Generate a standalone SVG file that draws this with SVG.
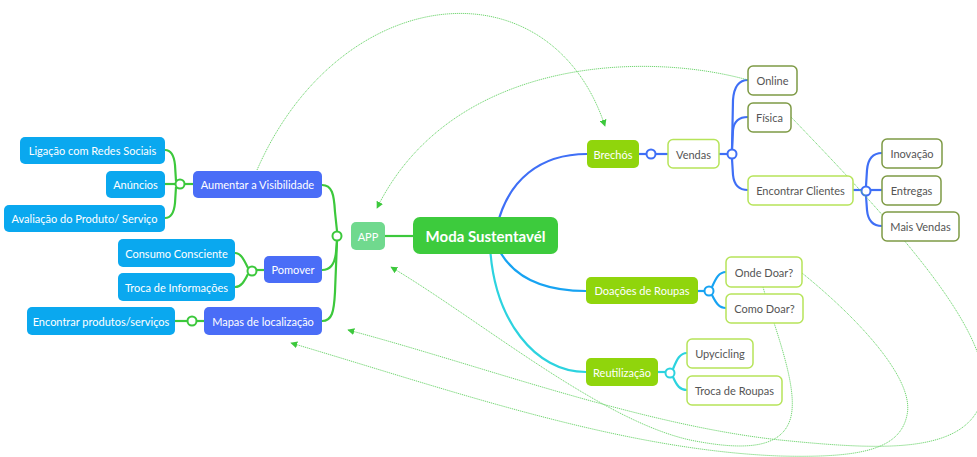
<svg xmlns="http://www.w3.org/2000/svg" width="977" height="457" viewBox="0 0 977 457">
  <defs>
    <marker id="arrow" viewBox="0 0 10 10" refX="9" refY="5" markerWidth="7" markerHeight="7" markerUnits="userSpaceOnUse" orient="auto">
      <path d="M0,0 L10,5 L0,10 z" fill="#3cc83c"/>
    </marker>
    <style>
      text { font-family: Lato, "Noto Sans", "Liberation Sans", sans-serif; font-size: 11px; text-anchor: middle; dominant-baseline: central; }
      .w { fill: #ffffff; }
      .d { fill: #555555; }
      .sky { fill: #0aa8ef; }
      .indigo { fill: #4a6df7; }
      .lime { fill: #90d50c; }
      .app { fill: #70d98e; }
      .root { fill: #3dcb3d; }
      .ol { fill: #ffffff; stroke: #7e9a45; stroke-width: 1.5; }
      .lg { fill: #ffffff; stroke: #b6e45a; stroke-width: 1.5; }
      .g { fill: none; stroke: #3cc83c; stroke-width: 2.2; }
      .b { fill: none; stroke: #3f6ff6; stroke-width: 2.2; }
      .az { fill: none; stroke: #17a3f2; stroke-width: 2.2; }
      .cy { fill: none; stroke: #2cd3df; stroke-width: 2.2; }
      .jg { fill: #ffffff; stroke: #3cc83c; stroke-width: 2; }
      .jb { fill: #ffffff; stroke: #3f6ff6; stroke-width: 2; }
      .jaz { fill: #ffffff; stroke: #17a3f2; stroke-width: 2; }
      .jcy { fill: #ffffff; stroke: #2cd3df; stroke-width: 2; }
      .rel { fill: none; stroke: #62d062; stroke-width: 0.9; stroke-dasharray: 1.2 0.8; marker-end: url(#arrow); }
    </style>
  </defs>

  <!-- branch connectors -->
  <g id="connectors">
    <!-- root to APP and main branches -->
    <path class="g" d="M385,236 L413,236"/>
    <path class="b" d="M497,226 C508,180 540,154 587,154"/>
    <path class="az" d="M497,246 C512,278 545,291 586,291"/>
    <path class="cy" d="M490,246 C494,320 535,372 586,372"/>

    <!-- APP side -->
    <path class="g" d="M337,231 L335,212 C334,194 332,185 322,185"/>
    <path class="g" d="M337,241 L336,252 C335,264 331,270 322,270"/>
    <path class="g" d="M337,241 L335,292 C334,312 332,321 322,321"/>

    <path class="g" d="M193,184 L185,184"/>
    <path class="g" d="M176,181 L175,165 C174,155 171,150 165,150"/>
    <path class="g" d="M175,184 L165,184"/>
    <path class="g" d="M176,187 L175,203 C174,213 171,218 165,218"/>

    <path class="g" d="M264,270 L257,270"/>
    <path class="g" d="M248,268 C244,260 241,253 235,253"/>
    <path class="g" d="M248,274 C244,282 241,287 235,287"/>

    <path class="g" d="M204,321 L197,321"/>
    <path class="g" d="M187,321 L175,321"/>

    <!-- Brechós side -->
    <path class="b" d="M639,154 L646,154"/>
    <path class="b" d="M656,154 L668,154"/>
    <path class="b" d="M719,154 L727,154"/>
    <path class="b" d="M732,149 L733,100 C734,86 739,80 748,80"/>
    <path class="b" d="M732,149 L733,130 C734,121 739,117 748,117"/>
    <path class="b" d="M732,159 L733,175 C734,185 739,190 748,190"/>
    <path class="b" d="M853,190 L861,190"/>
    <path class="b" d="M866,186 L867,170 C868,158 873,153 882,153"/>
    <path class="b" d="M871,190 L882,190"/>
    <path class="b" d="M866,196 L867,210 C868,221 873,226 882,226"/>

    <!-- Doações side -->
    <path class="az" d="M698,291 L704,291"/>
    <path class="az" d="M712,287 C716,278 719,272 726,272"/>
    <path class="az" d="M712,295 C716,303 719,308 726,308"/>

    <!-- Reutilização side -->
    <path class="cy" d="M658,372 L665,372"/>
    <path class="cy" d="M673,369 C677,359 680,353 687,353"/>
    <path class="cy" d="M673,377 C677,386 680,390 687,390"/>

    <!-- joints -->
    <circle class="jg" cx="337" cy="236" r="4.5"/>
    <circle class="jg" cx="180" cy="184" r="4.5"/>
    <circle class="jg" cx="252" cy="271" r="4.5"/>
    <circle class="jg" cx="192" cy="321" r="4.5"/>
    <circle class="jb" cx="651" cy="154" r="4.5"/>
    <circle class="jb" cx="732" cy="154" r="4.5"/>
    <circle class="jb" cx="866" cy="191" r="4.5"/>
    <circle class="jaz" cx="709" cy="291" r="4.5"/>
    <circle class="jcy" cx="670" cy="373" r="4.5"/>

    <!-- relationship lines -->
    <path class="rel" d="M257,170 C340,-20 550,-40 605,126"/>
    <path class="rel" d="M748,80 C640,50 450,60 377,208"/>
    <path class="rel" d="M791,117 C900,230 1000,340 982,400 C965,455 880,450 780,440 C640,425 480,365 348,330"/>
    <path class="rel" d="M802,273 C860,320 915,380 907,415 C900,450 860,458 780,456 C620,450 450,390 291,343"/>
    <path class="rel" d="M763,287 C775,330 800,390 790,420 C780,450 740,450 690,440 C600,420 480,320 391,267"/>
  </g>

  <!-- central topic -->
  <g id="root">
    <rect class="root" x="413" y="217" width="145" height="37" rx="7"/>
    <text class="w" x="485.5" y="236" style="font-size:15px;font-weight:bold">Moda Sustentavél</text>
  </g>

  <g id="app">
    <rect class="app" x="351" y="222" width="34" height="28" rx="5"/>
    <text class="w" x="368" y="236">APP</text>
  </g>

  <!-- APP subtopics -->
  <g id="aumentar">
    <rect class="indigo" x="193" y="171" width="129" height="27" rx="5"/>
    <text class="w" x="257.5" y="184.5">Aumentar a Visibilidade</text>
  </g>
  <g id="ligacao">
    <rect class="sky" x="20" y="137" width="145" height="27" rx="5"/>
    <text class="w" x="92.5" y="150.5">Ligação com Redes Sociais</text>
  </g>
  <g id="anuncios">
    <rect class="sky" x="106" y="171" width="59" height="27" rx="5"/>
    <text class="w" x="135.5" y="184.5">Anúncios</text>
  </g>
  <g id="avaliacao">
    <rect class="sky" x="4" y="205" width="161" height="27" rx="5"/>
    <text class="w" x="84.5" y="218.5">Avaliação do Produto/ Serviço</text>
  </g>

  <g id="pomover">
    <rect class="indigo" x="264" y="256" width="58" height="27" rx="5"/>
    <text class="w" x="293" y="269.5">Pomover</text>
  </g>
  <g id="consumo">
    <rect class="sky" x="118" y="239" width="117" height="28" rx="5"/>
    <text class="w" x="176.5" y="253">Consumo Consciente</text>
  </g>
  <g id="troca-info">
    <rect class="sky" x="118" y="273" width="117" height="28" rx="5"/>
    <text class="w" x="176.5" y="287">Troca de Informações</text>
  </g>

  <g id="mapas">
    <rect class="indigo" x="204" y="307" width="118" height="28" rx="5"/>
    <text class="w" x="263" y="321">Mapas de localização</text>
  </g>
  <g id="encontrar-produtos">
    <rect class="sky" x="27" y="307" width="148" height="28" rx="5"/>
    <text class="w" x="101" y="321">Encontrar produtos/serviços</text>
  </g>

  <!-- Brechós branch -->
  <g id="brechos">
    <rect class="lime" x="587" y="140" width="52" height="28" rx="5"/>
    <text class="w" x="613" y="154">Brechós</text>
  </g>
  <g id="vendas">
    <rect class="lg" x="668" y="139.5" width="51" height="28.5" rx="5"/>
    <text class="d" x="693.5" y="154">Vendas</text>
  </g>
  <g id="online">
    <rect class="ol" x="748" y="66" width="49" height="29" rx="5"/>
    <text class="d" x="772.5" y="80.5">Online</text>
  </g>
  <g id="fisica">
    <rect class="ol" x="748" y="103" width="43" height="29" rx="5"/>
    <text class="d" x="769.5" y="117.5">Física</text>
  </g>
  <g id="encontrar-clientes">
    <rect class="lg" x="748" y="176" width="105" height="29" rx="5"/>
    <text class="d" x="800.5" y="190.5">Encontrar Clientes</text>
  </g>
  <g id="inovacao">
    <rect class="ol" x="882" y="139" width="60" height="29" rx="5"/>
    <text class="d" x="912" y="153.5">Inovação</text>
  </g>
  <g id="entregas">
    <rect class="ol" x="882" y="176" width="59" height="29" rx="5"/>
    <text class="d" x="911.5" y="190.5">Entregas</text>
  </g>
  <g id="mais-vendas">
    <rect class="ol" x="882" y="212" width="77" height="29" rx="5"/>
    <text class="d" x="920.5" y="226.5">Mais Vendas</text>
  </g>

  <!-- Doações branch -->
  <g id="doacoes">
    <rect class="lime" x="586" y="277" width="112" height="27" rx="5"/>
    <text class="w" x="642" y="290.5">Doações de Roupas</text>
  </g>
  <g id="onde-doar">
    <rect class="lg" x="726" y="257" width="76" height="30" rx="5"/>
    <text class="d" x="764" y="272">Onde Doar?</text>
  </g>
  <g id="como-doar">
    <rect class="lg" x="726" y="294" width="77" height="29" rx="5"/>
    <text class="d" x="764.5" y="308.5">Como Doar?</text>
  </g>

  <!-- Reutilização branch -->
  <g id="reutilizacao">
    <rect class="lime" x="586" y="358" width="72" height="28" rx="5"/>
    <text class="w" x="622" y="372">Reutilização</text>
  </g>
  <g id="upycicling">
    <rect class="lg" x="687" y="339" width="66" height="29" rx="5"/>
    <text class="d" x="720" y="353.5">Upycicling</text>
  </g>
  <g id="troca-roupas">
    <rect class="lg" x="687" y="376" width="95" height="29" rx="5"/>
    <text class="d" x="734.5" y="390.5">Troca de Roupas</text>
  </g>
</svg>
